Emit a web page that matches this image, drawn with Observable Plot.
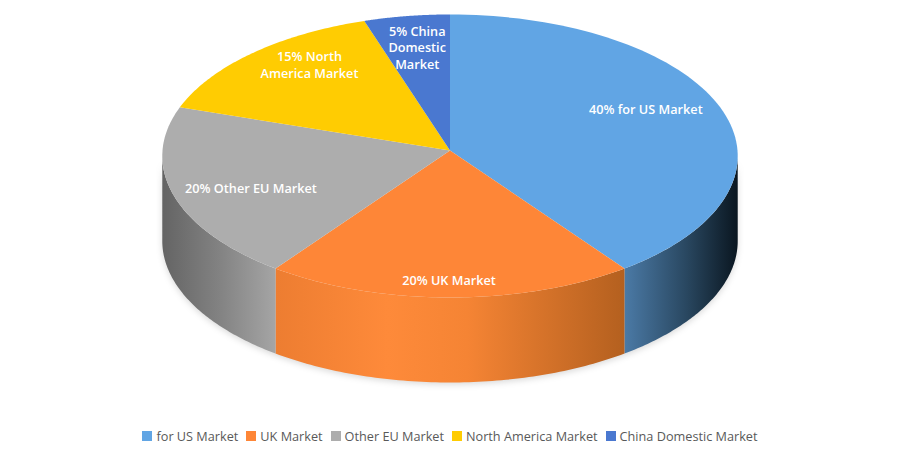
<!DOCTYPE html>
<html>
<head>
<meta charset="utf-8">
<script src="https://cdn.jsdelivr.net/npm/d3@7"></script>
<script src="https://cdn.jsdelivr.net/npm/@observablehq/plot@0.6"></script>
<style>
html,body{margin:0;padding:0;background:#fff;width:900px;height:450px;overflow:hidden}
#legend{position:absolute;left:0;top:426px;width:900px;height:20px;display:flex;justify-content:center;align-items:center;font:12.7px "Open Sans",sans-serif;color:#595959}
#legend .i{display:flex;align-items:center;margin:0 4px 0 4px}
#legend .s{width:10px;height:10px;margin-right:4px;display:inline-block}
svg{display:block}
</style>
</head>
<body>
<div id="chart"></div>
<div id="legend"></div>
<script>
// data
const categories = ["for US Market","UK Market","Other EU Market","North America Market","China Domestic Market"];
const shares = [40,20,20,15,5];
const sliceLabels = ["40% for US Market","20% UK Market","20% Other EU Market","15% North\nAmerica Market","5% China\nDomestic\nMarket"];
const colors = ["#61a5e4","#fe8637","#adadad","#ffcc02","#4a78d0"];
const sideStops = [
  [[0,"#4b7aa6"],[0.55,"#294760"],[1,"#0a1620"]],
  [[0,"#ed7d31"],[0.32,"#fe8a3a"],[0.55,"#f58434"],[1,"#b4601f"]],
  [[0,"#646464"],[0.5,"#828282"],[1,"#a5a5a5"]]
];
// layout of the tilted disc
const cx=449.5, cy=150, A=287.5, B=141.3, p=0.0388, depth=85;
const proj=(deg,r=1,drop=0)=>{const t=deg*Math.PI/180,w=1+p*r*Math.cos(t);
  return [cx+A*r*Math.sin(t)/w, cy-B*r*Math.cos(t)/w+drop];};
const labelPlace=[[0.7,6,-11],[0.7,-1,28],[0.7,-6,6],[0.72,3,-16],[0.75,0,-2]];

let acc=0;
const slices=shares.map((v,i)=>{const a=acc/100*360; acc+=v; const b=acc/100*360; return {i,a,b,mid:(a+b)/2,name:categories[i],label:sliceLabels[i]};});
const arc=(a,b,n=80)=>d3.range(n+1).map(k=>a+(b-a)*k/n);

const topPts=slices.flatMap(s=>[[cx,cy],...arc(s.a,s.b).map(d=>proj(d))].map(([x,y])=>({x,y,k:s.name})));
const sides=slices.filter(s=>s.a<270&&s.b>90).map(s=>{
  const a=Math.max(s.a,92),b=Math.min(s.b,268);
  const xa=proj(a)[0],xb=proj(b)[0];
  return {s,pts:[...arc(a,b).map(d=>proj(d)),...arc(a,b).reverse().map(d=>proj(d,1,depth))]
    .map(([x,y])=>({x,y})),x0:Math.min(xa,xb),x1:Math.max(xa,xb)};
});

const defs=()=>{
  const ns="http://www.w3.org/2000/svg";
  const g=document.createElementNS(ns,"defs");
  sides.forEach((d,i)=>{
    const lg=document.createElementNS(ns,"linearGradient");
    lg.setAttribute("id","side"+d.s.i);
    lg.setAttribute("gradientUnits","userSpaceOnUse");
    lg.setAttribute("x1",d.x0);lg.setAttribute("x2",d.x1);lg.setAttribute("y1",0);lg.setAttribute("y2",0);
    sideStops[i].forEach(([o,c])=>{const st=document.createElementNS(ns,"stop");st.setAttribute("offset",o);st.setAttribute("stop-color",c);lg.appendChild(st);});
    g.appendChild(lg);
  });
  const f=document.createElementNS(ns,"filter");
  f.setAttribute("id","soft");f.setAttribute("x","-10%");f.setAttribute("y","-10%");f.setAttribute("width","120%");f.setAttribute("height","120%");
  const b=document.createElementNS(ns,"feGaussianBlur");b.setAttribute("stdDeviation","3");f.appendChild(b);g.appendChild(f);
  return g;
};

const chart=Plot.plot({
  width:900,height:420,margin:0,
  x:{domain:[0,900],range:[0,900],axis:null},
  y:{domain:[0,420],range:[0,420],axis:null},
  marks:[
    defs,
    ...sides.map(d=>Plot.line(d.pts,{x:"x",y:"y",fill:"#000",fillOpacity:0.15,stroke:"none",curve:"linear",dy:2,
      render:(i,sc,v,dim,ctx,next)=>{const n=next(i,sc,v,dim,ctx);n.setAttribute("filter","url(#soft)");return n;}})),
    ...sides.map(d=>Plot.line(d.pts,{x:"x",y:"y",fill:`url(#side${d.s.i})`,stroke:"none",curve:"linear"})),
    ...slices.map(s=>Plot.line(topPts.filter(t=>t.k===s.name),{x:"x",y:"y",fill:colors[s.i],stroke:"none",curve:"linear"})),
    ...slices.map(s=>{const [r,dx,dy]=labelPlace[s.i];const [x,y]=proj(s.mid,r);
      return Plot.text([s],{x:()=>x,y:()=>y,dx,dy,text:"label",fill:"#fff",fontSize:12.7,fontWeight:600,fontFamily:"Open Sans",lineHeight:1.3,textAnchor:"middle"});})
  ]
});
document.getElementById("chart").appendChild(chart);
const lg=document.getElementById("legend");
categories.forEach((c,i)=>{const d=document.createElement("span");d.className="i";
  const q=document.createElement("span");q.className="s";q.style.background=colors[i];
  const t=document.createElement("span");t.textContent=c;d.append(q,t);lg.appendChild(d);});
</script>
</body>
</html>
